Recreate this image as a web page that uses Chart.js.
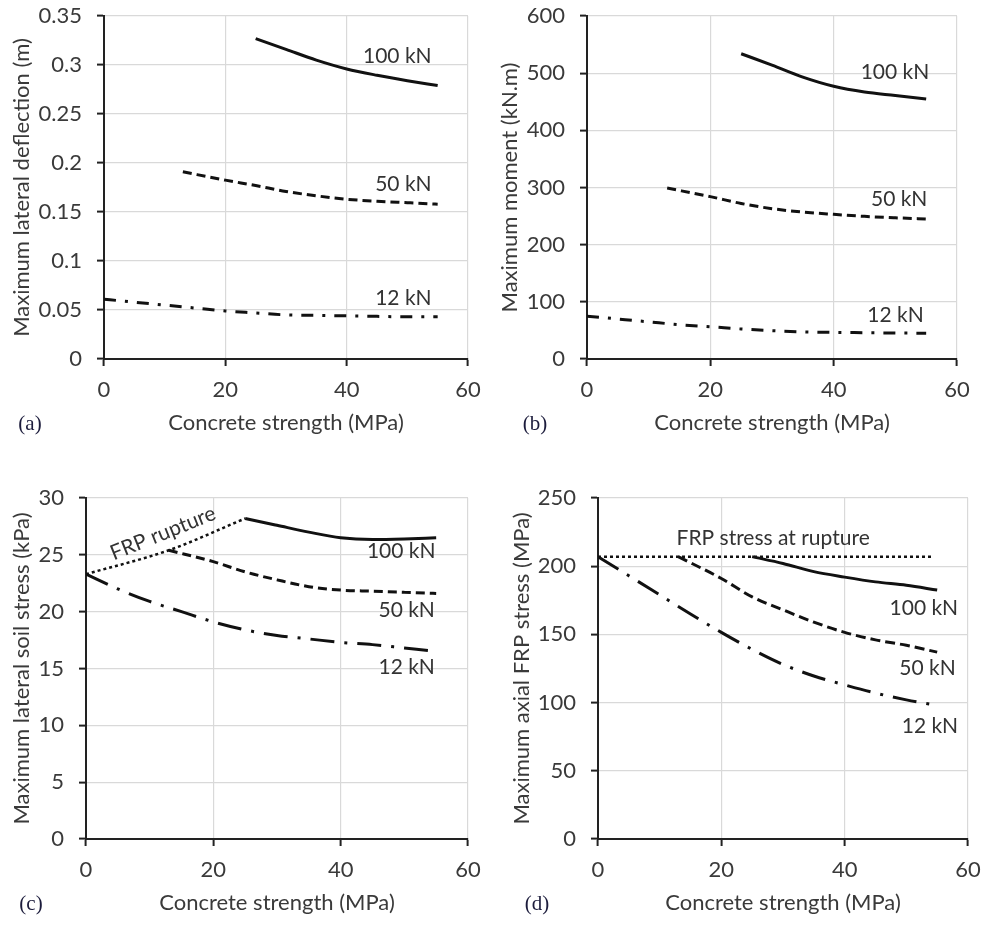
<!DOCTYPE html>
<html>
<head>
<meta charset="utf-8">
<script src="https://cdn.jsdelivr.net/npm/chart.js@4.4.1/dist/chart.umd.min.js"></script>
<style>
  html, body { margin: 0; padding: 0; background: #fff; }
  body { width: 983px; height: 926px; position: relative; overflow: hidden; }
  .panel { position: absolute; }
  .tag {
    position: absolute; transform: translate(-50%, -50%);
    font-family: "Liberation Serif", "DejaVu Serif", serif; font-size: 21px; color: #1c1c3c;
  }
</style>
</head>
<body>
<div class="panel" style="left:0;top:0"><canvas id="chartA" width="490" height="445"></canvas></div>
<div class="panel" style="left:490px;top:0"><canvas id="chartB" width="493" height="445"></canvas></div>
<div class="panel" style="left:0;top:470px"><canvas id="chartC" width="490" height="456"></canvas></div>
<div class="panel" style="left:490px;top:470px"><canvas id="chartD" width="493" height="456"></canvas></div>
<div class="tag" style="left:30px;top:423px">(a)</div>
<div class="tag" style="left:535px;top:423px">(b)</div>
<div class="tag" style="left:31px;top:903px">(c)</div>
<div class="tag" style="left:537px;top:903px">(d)</div>

<script>
// x positions (concrete strength, MPa) for each load case
const X_12 = [0, 5, 10, 15, 20, 25, 30, 35, 40, 45, 50, 55];
const X_50 = [13, 20, 25, 30, 35, 40, 45, 50, 55];
const X_100 = [25, 30, 35, 40, 45, 50, 55];
const X_TICKS = [0, 20, 40, 60];

// (a) max lateral deflection (m)
const defl12 = [0.061, 0.058, 0.055, 0.052, 0.049, 0.047, 0.045, 0.0445, 0.044, 0.0435, 0.043, 0.043];
const defl50 = [0.191, 0.1825, 0.177, 0.171, 0.1665, 0.163, 0.161, 0.1595, 0.158];
const defl100 = [0.327, 0.316, 0.305, 0.296, 0.2895, 0.284, 0.279];
const deflTicks = [0, 0.05, 0.1, 0.15, 0.2, 0.25, 0.3, 0.35];
const deflTickLabels = ["0", "0.05", "0.1", "0.15", "0.2", "0.25", "0.3", "0.35"];

// (b) max moment (kN.m)
const mom12 = [75, 70, 65, 60, 56.5, 52.5, 49.5, 47.5, 46.5, 46, 45.5, 45];
const mom50 = [299, 284, 272, 263, 257, 253, 249.5, 247, 245];
const mom100 = [534, 514, 493, 477, 467, 461, 455];
const momTicks = [0, 100, 200, 300, 400, 500, 600];
const momTickLabels = ["0", "100", "200", "300", "400", "500", "600"];

// (c) max lateral soil stress (kPa)
const soilRuptX = [0, 13, 25];
const soilRupt = [23.3, 25.4, 28.2];
const soil12 = [23.3, 22.0, 20.9, 20.0, 19.1, 18.4, 17.9, 17.6, 17.3, 17.1, 16.8, 16.5];
const soil50 = [25.4, 24.4, 23.5, 22.8, 22.2, 21.9, 21.8, 21.7, 21.6];
const soil100 = [28.2, 27.6, 27.0, 26.5, 26.35, 26.4, 26.5];
const soilTicks = [0, 5, 10, 15, 20, 25, 30];
const soilTickLabels = ["0", "5", "10", "15", "20", "25", "30"];

// (d) max axial FRP stress (MPa)
const frpRuptX = [0, 54];
const frpRupt = [207, 207];
const frp12 = [207, 193, 179, 165, 151.5, 139, 128, 119.5, 113, 107, 102, 98];
const frp50 = [207, 191, 177.5, 168, 159, 151.5, 146, 142, 137];
const frp100 = [207, 202, 196, 192, 188.5, 186, 182.5];
const frpTicks = [0, 50, 100, 150, 200, 250];
const frpTickLabels = ["0", "50", "100", "150", "200", "250"];

// curve labels, in data units of each panel
const notesA = [
  { text: "100 kN", x: 54, y: 0.309 },
  { text: "50 kN", x: 54, y: 0.178 },
  { text: "12 kN", x: 54, y: 0.062 }
];
const notesB = [
  { text: "100 kN", x: 55.5, y: 502 },
  { text: "50 kN", x: 55.2, y: 280 },
  { text: "12 kN", x: 54.6, y: 77 }
];
const notesC = [
  { text: "FRP rupture", x: 12.1, y: 26.9, align: "center", rot: -22 },
  { text: "100 kN", x: 54.9, y: 25.3 },
  { text: "50 kN", x: 54.8, y: 20.1 },
  { text: "12 kN", x: 54.8, y: 15.1 }
];
const notesD = [
  { text: "FRP stress at rupture", x: 28.4, y: 220.5, align: "center" },
  { text: "100 kN", x: 58.4, y: 169 },
  { text: "50 kN", x: 58.0, y: 125 },
  { text: "12 kN", x: 58.4, y: 82.5 }
];

(function () {
  const FONT = "Lato, 'Open Sans', sans-serif";
  const TXT = "#3a3a3a";

  const pts = (xs, ys) => xs.map((x, i) => ({ x, y: ys[i] }));

  const curveLabels = {
    id: "curveLabels",
    afterDatasetsDraw(chart, args, opts) {
      const { ctx } = chart;
      const xs = chart.scales.x, ys = chart.scales.y;
      (opts.items || []).forEach((n) => {
        ctx.save();
        ctx.font = "21px " + FONT;
        ctx.fillStyle = "#333";
        ctx.textAlign = n.align || "right";
        ctx.textBaseline = "middle";
        ctx.translate(xs.getPixelForValue(n.x), ys.getPixelForValue(n.y));
        if (n.rot) ctx.rotate((n.rot * Math.PI) / 180);
        ctx.fillText(n.text, 0, 0);
        ctx.restore();
      });
    }
  };

  const line = (data, dash, width) => ({
    data,
    borderColor: "#111",
    borderWidth: width || 3,
    borderDash: dash,
    borderCapStyle: "butt",
    pointRadius: 0,
    cubicInterpolationMode: "monotone",
    fill: false
  });

  function makeChart(id, cfg) {
    const ctx = document.getElementById(id);
    return new Chart(ctx, {
      type: "line",
      data: { datasets: cfg.datasets },
      plugins: [curveLabels],
      options: {
        responsive: false,
        animation: false,
        layout: { padding: { left: 0, top: cfg.top, right: cfg.right, bottom: 0 } },
        plugins: {
          legend: { display: false },
          tooltip: { enabled: false },
          curveLabels: { items: cfg.notes }
        },
        scales: {
          x: {
            type: "linear",
            min: 0, max: 60,
            afterBuildTicks: (s) => { s.ticks = X_TICKS.map((v) => ({ value: v })); },
            afterFit: (s) => { s.height = cfg.xh; s.paddingLeft = 0; s.paddingRight = 0; },
            grid: { color: "#d9d9d9", lineWidth: 1.2, tickColor: "#222", tickWidth: 2, tickLength: 7 },
            border: { color: "#222", width: 2 },
            ticks: { color: TXT, padding: 11, font: { family: FONT, size: 22 }, maxRotation: 0 },
            title: {
              display: true, text: "Concrete strength (MPa)", color: TXT,
              font: { family: FONT, size: 22 }, padding: { top: 0, bottom: cfg.xtp }
            }
          },
          y: {
            min: cfg.yTicks[0], max: cfg.yTicks[cfg.yTicks.length - 1],
            afterBuildTicks: (s) => { s.ticks = cfg.yTicks.map((v) => ({ value: v })); },
            afterFit: (s) => { s.width = cfg.yw; s.paddingTop = 0; s.paddingBottom = 0; },
            grid: { color: "#d9d9d9", lineWidth: 1.2, tickColor: "#222", tickWidth: 2, tickLength: 7 },
            border: { color: "#222", width: 2 },
            ticks: {
              color: TXT, padding: 15, font: { family: FONT, size: 22 },
              callback: (v, i) => cfg.yLabels[i]
            },
            title: {
              display: true, text: cfg.yTitle, color: TXT,
              font: { family: FONT, size: 22 }, padding: { top: cfg.ytp, bottom: 0 }
            }
          }
        }
      }
    });
  }

  const DASH = [9, 5];
  const DASHDOT_S = [12, 9, 3, 9];
  const DASHDOT_L = [24, 10, 3, 10];
  const DOT = [3, 3];

  makeChart("chartA", {
    yTitle: "Maximum lateral deflection (m)", yTicks: deflTicks, yLabels: deflTickLabels,
    top: 16, right: 22, yw: 104, xh: 86, xtp: 9, ytp: 9, notes: notesA,
    datasets: [
      line(pts(X_100, defl100), []),
      line(pts(X_50, defl50), DASH),
      line(pts(X_12, defl12), DASHDOT_S)
    ]
  });

  makeChart("chartB", {
    yTitle: "Maximum moment (kN.m)", yTicks: momTicks, yLabels: momTickLabels,
    top: 16, right: 26, yw: 97, xh: 86, xtp: 9, ytp: 7, notes: notesB,
    datasets: [
      line(pts(X_100, mom100), []),
      line(pts(X_50, mom50), DASH),
      line(pts(X_12, mom12), DASHDOT_S)
    ]
  });

  makeChart("chartC", {
    yTitle: "Maximum lateral soil stress (kPa)", yTicks: soilTicks, yLabels: soilTickLabels,
    top: 28, right: 22, yw: 86, xh: 87, xtp: 10, ytp: 9, notes: notesC,
    datasets: [
      line(pts(soilRuptX, soilRupt), DOT, 2.5),
      line(pts(X_100, soil100), []),
      line(pts(X_50, soil50), DASH),
      line(pts(X_12, soil12), DASHDOT_L)
    ]
  });

  makeChart("chartD", {
    yTitle: "Maximum axial FRP stress (MPa)", yTicks: frpTicks, yLabels: frpTickLabels,
    top: 28, right: 15, yw: 108, xh: 87, xtp: 10, ytp: 19, notes: notesD,
    datasets: [
      line(pts(frpRuptX, frpRupt), DOT, 2.5),
      line(pts(X_100, frp100), []),
      line(pts(X_50, frp50), [10, 5]),
      line(pts(X_12, frp12), DASHDOT_L)
    ]
  });
})();
</script>
</body>
</html>
